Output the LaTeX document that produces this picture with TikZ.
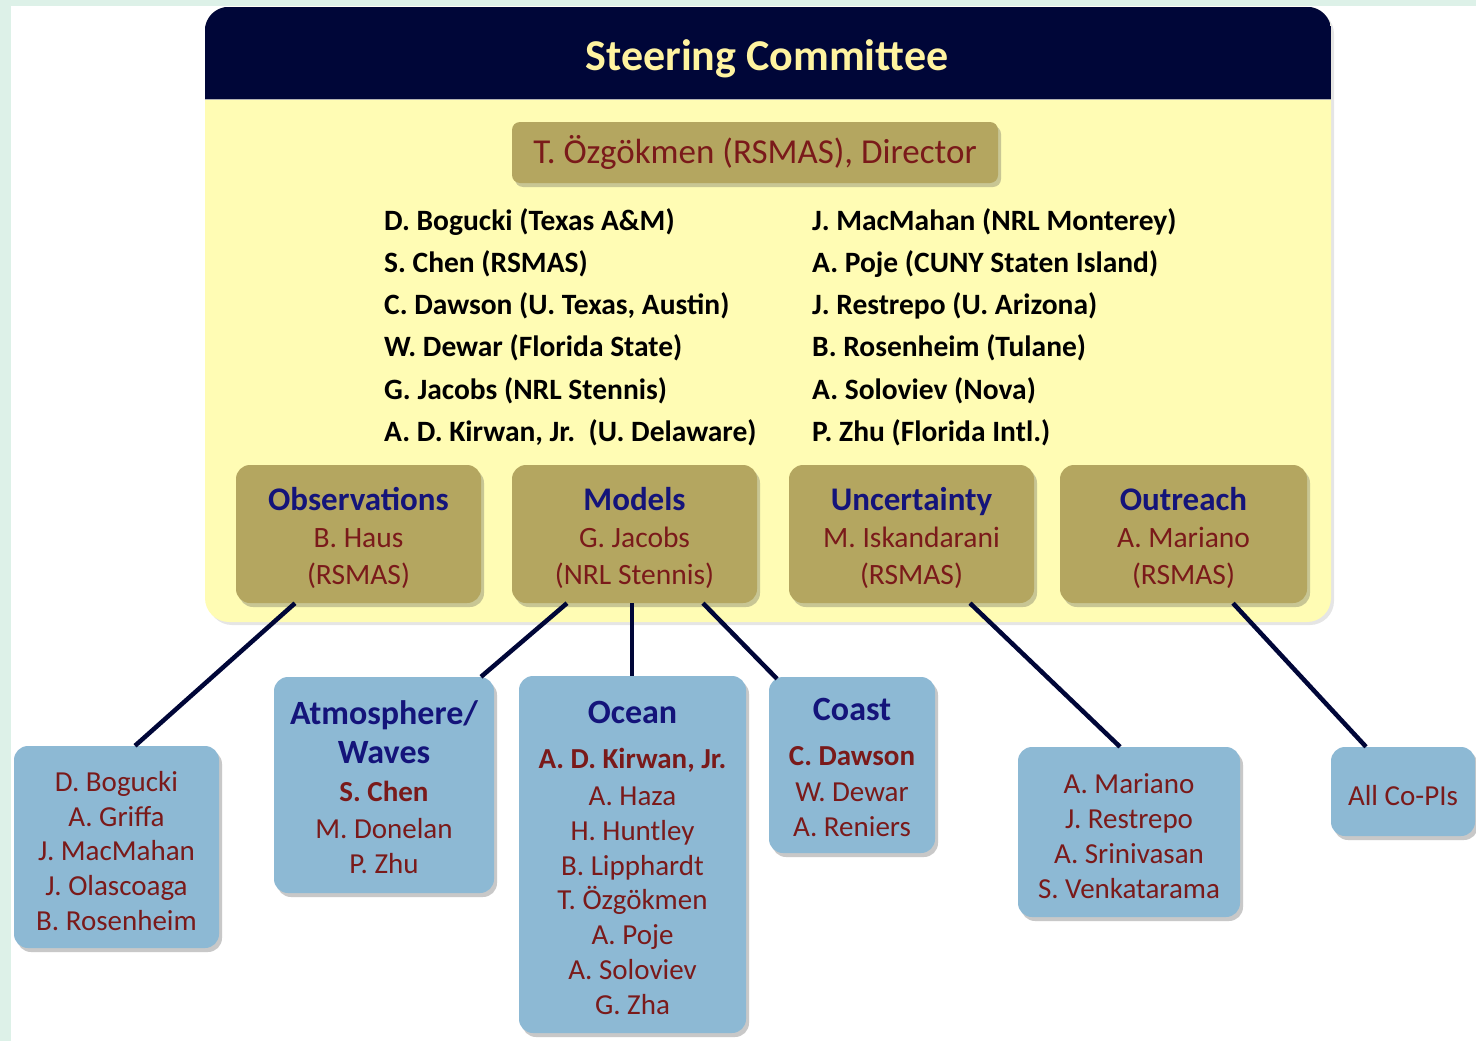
\documentclass[tikz,border=0pt]{standalone}
\usepackage{fontspec}
\setmainfont{Carlito}
\usetikzlibrary{shadows,calc}
\definecolor{navy}{HTML}{000638}
\definecolor{pale}{HTML}{FFFCB4}
\definecolor{olive}{HTML}{B4A660}
\definecolor{skyb}{HTML}{8DB9D4}
\definecolor{ttl}{HTML}{14147A}
\definecolor{nm}{HTML}{7A1A1A}
\definecolor{mint}{HTML}{DDF1E8}
\definecolor{cream}{HTML}{FFF3A0}
\newcommand{\grpttl}[1]{{\fontsize{34}{38}\selectfont\bfseries\color{ttl}#1}}
\newcommand{\olivettl}[1]{{\fontsize{33}{37}\selectfont\bfseries\color{ttl}#1}}
\newcommand{\leadnm}[1]{{\bfseries #1}}
\begin{document}
\begin{tikzpicture}[x=1pt,y=-1pt,
  shd/.style={drop shadow={shadow xshift=3pt,shadow yshift=-4pt,opacity=0.3,fill=black!70}},
  olivebox/.style={shd, fill=olive, rounded corners=14pt, minimum width=245pt, minimum height=138pt, inner sep=0pt},
  olivetext/.style={align=center, inner sep=0pt, text=nm, font=\fontsize{29.5}{37}\selectfont},
  bluebox/.style={shd, fill=skyb, rounded corners=14pt, inner sep=0pt},
  bluetext/.style={align=center, inner sep=0pt, text=nm, font=\fontsize{29}{34.8}\selectfont},
  listcol/.style={anchor=west, align=left, inner sep=0pt, font=\fontsize{29.5}{42.2}\selectfont\bfseries},
  conn/.style={draw=navy, line width=4.5pt}
]
\useasboundingbox (0,0) rectangle (1476,1041);
\fill[white] (0,0) rectangle (1476,1041);
\fill[mint] (0,0) rectangle (1476,6);
\fill[mint] (0,0) rectangle (11,1041);

% Steering committee frame
\node[name=sc, drop shadow={shadow xshift=3pt,shadow yshift=-3pt,opacity=0.2,fill=black!50}, fill=pale, rounded corners=24pt, minimum width=1126pt, minimum height=615pt, inner sep=0pt] at (768,314.5) {};
\begin{scope}
  \clip[rounded corners=24pt] (sc.north west) rectangle (sc.south east);
  \fill[navy] (sc.north west) rectangle ([yshift=-93pt]sc.north east);
\end{scope}
\draw[gray!60, line width=1pt] ([yshift=-93pt]sc.north west) -- ([yshift=-93pt]sc.north east);
\node[name=title, text=cream, font=\fontsize{44}{50}\selectfont\bfseries] at (767,59) {Steering Committee};

\node[name=dir, shd, fill=olive, rounded corners=8pt, minimum width=486pt, minimum height=61pt, inner sep=0pt, text=nm, font=\fontsize{35}{40}\selectfont] at (755,152.5) {T. Özgökmen (RSMAS), Director};

\node[name=colL, listcol] at (384,327) {D. Bogucki (Texas A\&M)\\ S. Chen (RSMAS)\\ C. Dawson (U. Texas, Austin)\\ W. Dewar (Florida State)\\ G. Jacobs (NRL Stennis)\\ A. D. Kirwan, Jr.\ \ (U. Delaware)};
\node[name=colR, listcol] at (812,327) {J. MacMahan (NRL Monterey)\\ A. Poje (CUNY Staten Island)\\ J. Restrepo (U. Arizona)\\ B. Rosenheim (Tulane)\\ A. Soloviev (Nova)\\ P. Zhu (Florida Intl.)};

% Group boxes
\node[name=obs, olivebox] at (358.5,534) {};
\node[name=mod, olivebox] at (634.5,534) {};
\node[name=unc, olivebox] at (911.5,534) {};
\node[name=out, olivebox, minimum width=247pt] at (1183.5,534) {};
\node[name=obst, olivetext] at ([yshift=-4pt]obs.center) {\olivettl{Observations}\\ B. Haus\\ (RSMAS)};
\node[name=modt, olivetext] at ([yshift=-4pt]mod.center) {\olivettl{Models}\\ G. Jacobs\\ (NRL Stennis)};
\node[name=unct, olivetext] at ([yshift=-4pt]unc.center) {\olivettl{Uncertainty}\\ M. Iskandarani\\ (RSMAS)};
\node[name=outt, olivetext] at ([yshift=-4pt]out.center) {\olivettl{Outreach}\\ A. Mariano\\ (RSMAS)};

% Team boxes
\node[name=b1, bluebox, minimum width=205pt, minimum height=202pt] at (116.5,847) {};
\node[name=b2, bluebox, minimum width=220pt, minimum height=216pt] at (384,785) {};
\node[name=b3, bluebox, minimum width=227pt, minimum height=357pt] at (632.5,854.5) {};
\node[name=b4, bluebox, minimum width=166pt, minimum height=176pt] at (852,765) {};
\node[name=b5, bluebox, minimum width=222pt, minimum height=170pt] at (1129,832) {};
\node[name=b6, bluebox, minimum width=144pt, minimum height=89pt] at (1403,791.5) {};
\node[name=b1t, bluetext] at ([yshift=-4pt]b1.center) {D. Bogucki\\ A. Griffa\\ J. MacMahan\\ J. Olascoaga\\ B. Rosenheim};
\node[name=b2t, bluetext] at ([yshift=-2pt]b2.center) {\grpttl{Atmosphere/}\\[4pt] \grpttl{Waves}\\[4pt] \leadnm{S. Chen}\\[2pt] M. Donelan\\ P. Zhu};
\node[name=b3t, bluetext] at ([yshift=-3.5pt]b3.center) {\grpttl{Ocean}\\[10pt] \leadnm{A. D. Kirwan, Jr.}\\[2pt] A. Haza\\ H. Huntley\\ B. Lipphardt\\ T. Özgökmen\\ A. Poje\\ A. Soloviev\\ G. Zha};
\node[name=b4t, bluetext] at ([yshift=-2.5pt]b4.center) {\grpttl{Coast}\\[10pt] \leadnm{C. Dawson}\\[2pt] W. Dewar\\ A. Reniers};
\node[name=b5t, bluetext] at ([yshift=-4pt]b5.center) {A. Mariano\\ J. Restrepo\\ A. Srinivasan\\ S. Venkatarama};
\node[name=b6t, bluetext] at ([yshift=-4pt]b6.center) {All Co-PIs};

% Connectors
\draw[conn] ([xshift=-63.5pt]obs.south) -- ([xshift=18.5pt]b1.north);
\draw[conn] ([xshift=-67.5pt]mod.south) -- ([xshift=97pt]b2.north);
\draw[conn] ([xshift=-2.5pt]mod.south) -- ([xshift=-2.5pt]mod.south |- b3.north);
\draw[conn] ([xshift=68.5pt]mod.south) -- ([xshift=-75pt,yshift=-2pt]b4.north);
\draw[conn] ([xshift=58.5pt]unc.south) -- ([xshift=-9pt]b5.north);
\draw[conn] ([xshift=49.5pt]out.south) -- ([xshift=-37pt]b6.north);
\end{tikzpicture}
\end{document}
